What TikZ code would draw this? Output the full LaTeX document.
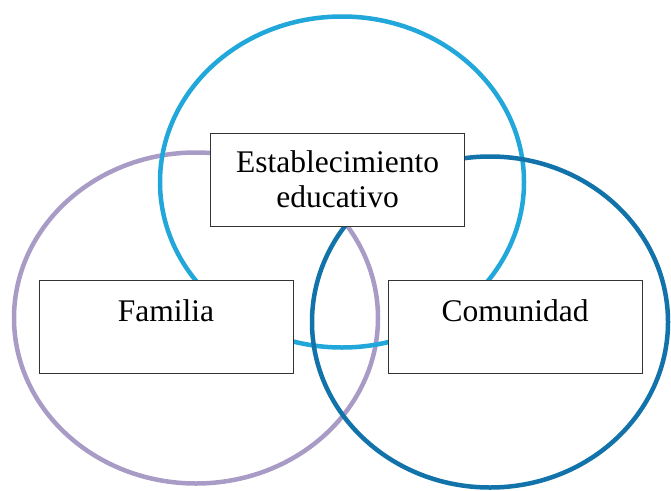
\documentclass[tikz,border=0pt]{standalone}
\usepackage{fontspec}
\setmainfont{Liberation Serif}
\usepackage{tikz}
\usetikzlibrary{shapes.geometric}
\definecolor{ringtop}{HTML}{22A7DA}
\definecolor{ringleft}{HTML}{A89BC6}
\definecolor{ringright}{HTML}{1272AA}
\definecolor{boxline}{HTML}{333333}

\begin{document}
\begin{tikzpicture}[x = 1pt, y = -1pt]
% Node styles ---
\tikzstyle{ring} = [ellipse, line width = 4.5pt, minimum width = 364pt, minimum height = 331pt, inner sep = 0pt]
\tikzstyle{lab} = [rectangle, draw = boxline, line width = 0.8pt, fill = white, inner sep = 0pt, minimum width = 254pt, font = \fontsize{31.5}{35}\selectfont]
\tikzstyle{toplab} = [lab, align = center, minimum height = 93pt]
\tikzstyle{sidelab} = [lab, text height = 41pt, text depth = 52pt]
% Begin Figure ---
\useasboundingbox (0,0) rectangle (671,490);
% Rings
\node at (196,318) [ring, draw = ringleft] (rfam) {};
\node at (342,182) [ring, draw = ringtop] (resc) {};
\node at (490,322) [ring, draw = ringright, minimum width = 356pt] (rcom) {};
% Labels
\node at (337.5,179.5) [toplab] (esc) {Establecimiento\\educativo};
\node at (166,280) [sidelab, anchor = north] (fam) {Familia};
\node at (515,280) [sidelab, anchor = north] (com) {Comunidad};
\end{tikzpicture}
\end{document}
